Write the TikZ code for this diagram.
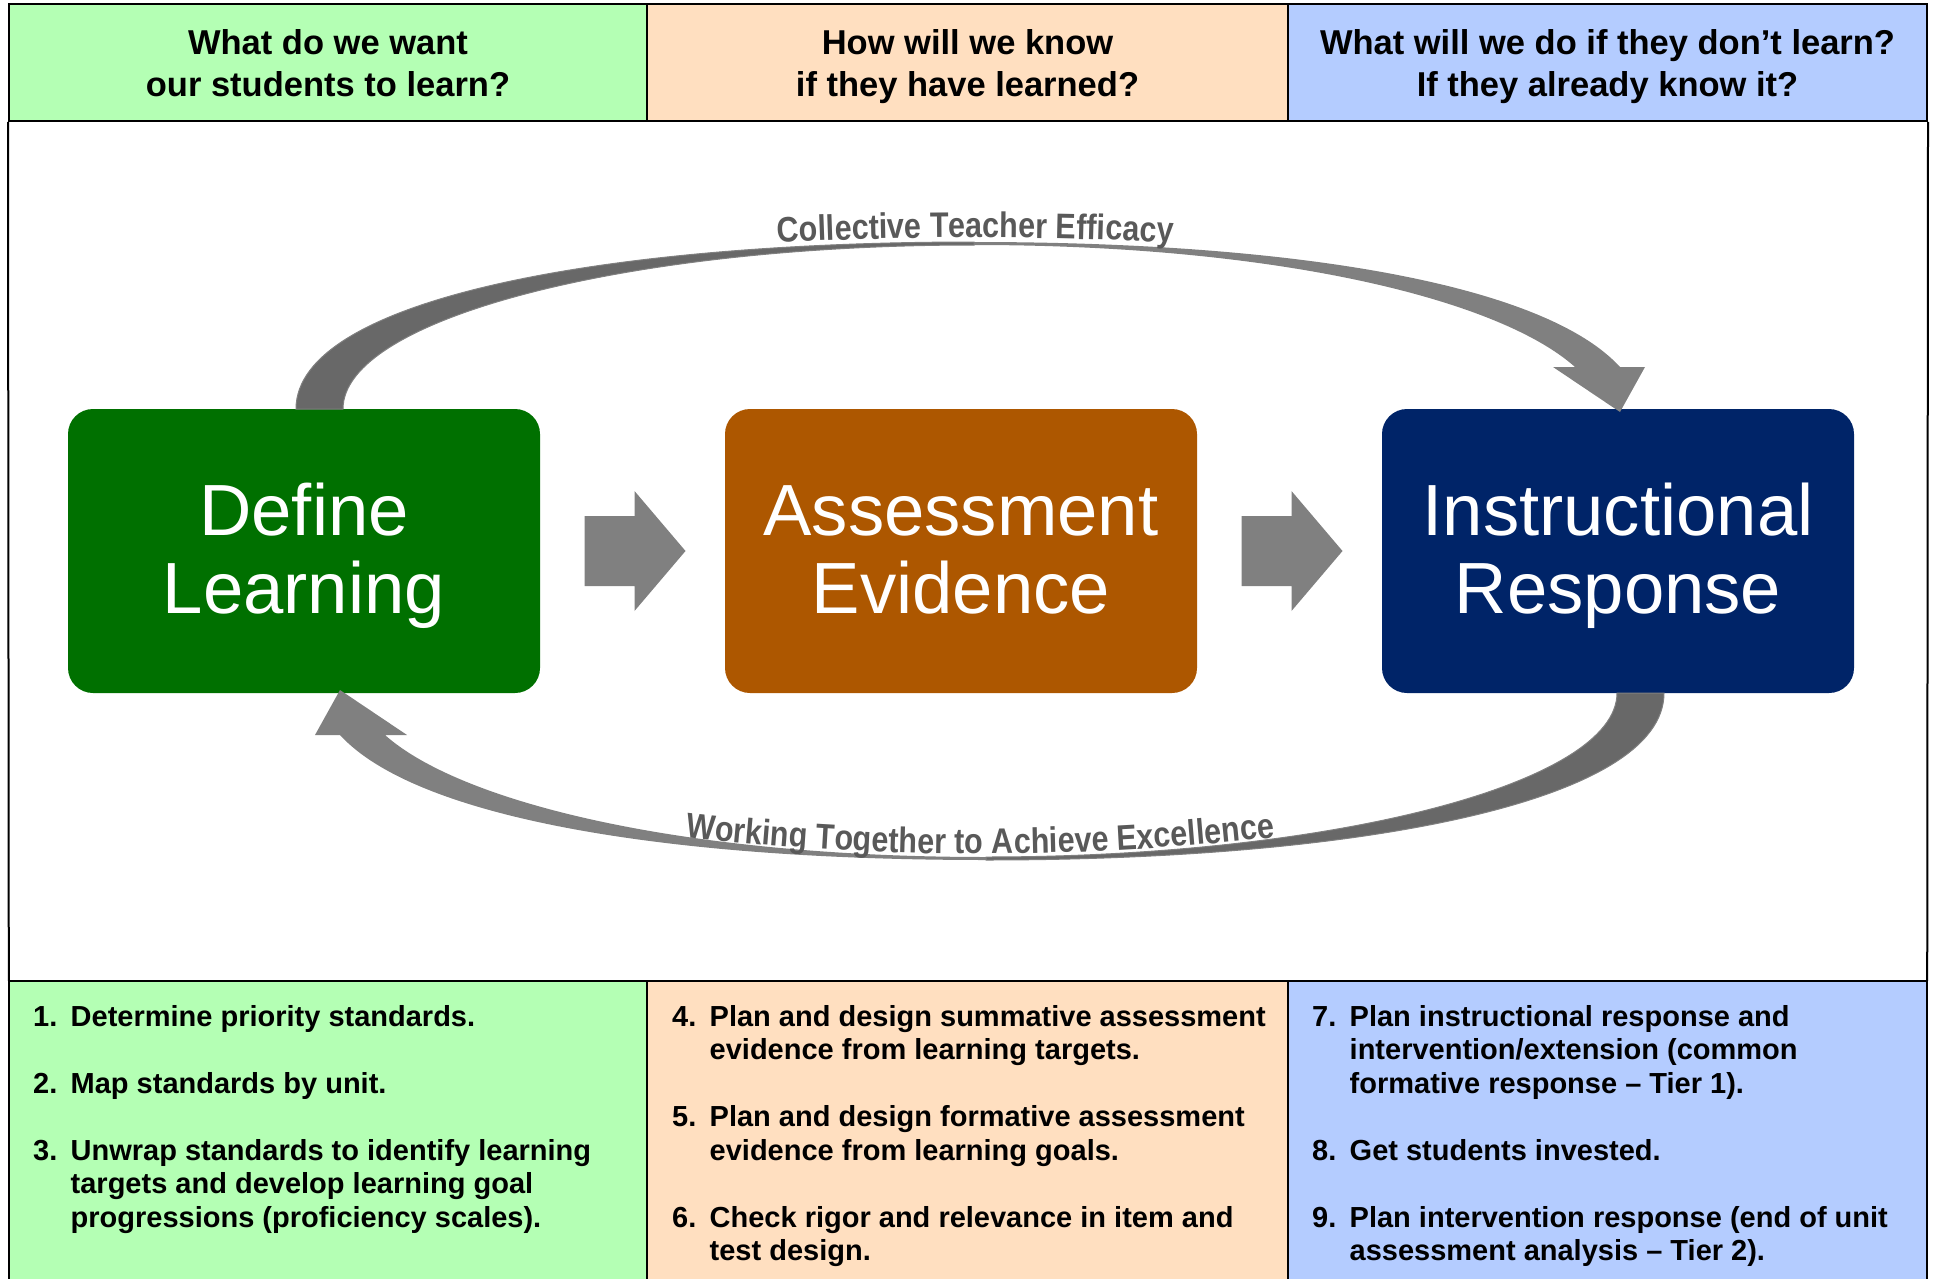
\documentclass[tikz,border=0pt]{standalone}
\usepackage{fontspec}
\setmainfont{Liberation Sans}
\newfontfamily\curvefam{Liberation Sans}[FakeStretch=0.86]
\usetikzlibrary{calc}
\usetikzlibrary{decorations.text}

\definecolor{hgreen}{RGB}{180,255,180}
\definecolor{hpeach}{RGB}{255,223,192}
\definecolor{hblue}{RGB}{180,204,255}
\definecolor{dlgreen}{RGB}{0,112,0}
\definecolor{aebrown}{RGB}{173,87,0}
\definecolor{irnavy}{RGB}{0,36,104}
\definecolor{arrlight}{RGB}{128,128,128}
\definecolor{arrdark}{RGB}{104,104,104}
\definecolor{captgray}{RGB}{89,89,89}

\newcommand{\headfont}{\bfseries\fontsize{34.5}{42}\selectfont}
\newcommand{\listfont}{\bfseries\fontsize{29}{33.5}\selectfont}
\newcommand{\stagefont}{\fontsize{72.5}{78}\selectfont}
\newcommand{\curvefont}{\curvefam\bfseries\fontsize{35.5}{40}\selectfont}
\newcommand{\stagelabel}[2]{\raisebox{0pt}[\dimexpr\height+16pt\relax][\depth]{\begin{tabular}{@{}c@{}}#1\\#2\end{tabular}}}

\begin{document}
\begin{tikzpicture}[x=1pt, y=-1pt,
    headcell/.style={draw, line width=2pt, minimum height=117pt, inner sep=0pt},
    footcell/.style={minimum height=298pt, inner sep=0pt},
    headtext/.style={anchor=base, inner sep=0pt, font=\headfont},
    listtext/.style={anchor=base west, inner sep=0pt, font=\listfont},
    stage/.style={rounded corners=25pt, minimum width=472pt, minimum height=284pt, text=white, font=\stagefont, inner sep=0pt},
    rule/.style={line width=2pt}]
        \useasboundingbox (0,0) rectangle (1933,1279);

        % header row
        \node[headcell, fill=hgreen, minimum width=638pt] (h1) at (328,62.5) {};
        \node[headcell, fill=hpeach, minimum width=641pt] (h2) at (967.5,62.5) {};
        \node[headcell, fill=hblue, minimum width=639pt] (h3) at (1607.5,62.5) {};
        \node[headtext] (t1) at (328,55) {\begin{tabular}[t]{@{}c@{}}What do we want\\our students to learn?\end{tabular}};
        \node[headtext] (t2) at (967.5,55) {\begin{tabular}[t]{@{}c@{}}How will we know\\if they have learned?\end{tabular}};
        \node[headtext] (t3) at (1607.5,55) {\begin{tabular}[t]{@{}c@{}}What will we do if they don’t learn?\\If they already know it?\end{tabular}};

        % footer row
        \node[footcell, fill=hgreen, minimum width=638pt] (f1) at (328,1130) {};
        \node[footcell, fill=hpeach, minimum width=641pt] (f2) at (967.5,1130) {};
        \node[footcell, fill=hblue, minimum width=639pt] (f3) at (1607.5,1130) {};
        \draw[rule] (f1.south west) -- (f1.north west) -- (f3.north east) -- (f3.south east);
        \draw[rule] (f1.north east) -- (f1.south east);
        \draw[rule] (f2.north east) -- (f2.south east);
        \draw[rule] (h1.south west) -- (f1.north west);
        \draw[rule] (h3.south east) -- (f3.north east);

        \node[listtext] (l1) at (33,1026) {\begin{tabular}[t]{@{}p{37.5pt}@{}l@{}}
            1. & Determine priority standards.\\ & \\
            2. & Map standards by unit.\\ & \\
            3. & Unwrap standards to identify learning\\
               & targets and develop learning goal\\
               & progressions (proficiency scales).\end{tabular}};
        \node[listtext] (l2) at (672,1026) {\begin{tabular}[t]{@{}p{37.5pt}@{}l@{}}
            4. & Plan and design summative assessment\\
               & evidence from learning targets.\\ & \\
            5. & Plan and design formative assessment\\
               & evidence from learning goals.\\ & \\
            6. & Check rigor and relevance in item and\\
               & test design.\end{tabular}};
        \node[listtext] (l3) at (1312,1026) {\begin{tabular}[t]{@{}p{37.5pt}@{}l@{}}
            7. & Plan instructional response and\\
               & intervention/extension (common\\
               & formative response – Tier 1).\\ & \\
            8. & Get students invested.\\ & \\
            9. & Plan intervention response (end of unit\\
               & assessment analysis – Tier 2).\end{tabular}};

        % stages
        \node[stage, fill=dlgreen] (define) at (304,551) {\stagelabel{Define}{Learning}};
        \node[stage, fill=aebrown] (assess) at (961,551) {\stagelabel{Assessment}{Evidence}};
        \node[stage, fill=irnavy] (respond) at (1618,551) {\stagelabel{Instructional}{Response}};

        % block arrows between the stages
        \foreach \a/\b in {define/assess, assess/respond}
            \fill[arrlight] ($(\a.east)!0.5!(\b.west)$) ++(-48,-35) -- ++(50,0) -- ++(0,-25)
                -- ++(51,60) -- ++(-51,60) -- ++(0,-25) -- ++(-50,0) -- cycle;

        % curved arrows (the lower one is the upper one turned round)
        \foreach \r in {0,180} {
            \begin{scope}[rotate around={\r:(980,551)}]
                \filldraw[fill=arrdark, draw=arrlight, line width=1pt] (296,409) .. controls (296,300) and (600,242) .. (974,242)
                    -- (974,245) .. controls (630,245) and (343,318) .. (343,409) -- cycle;
                \fill[arrlight] (974,242) .. controls (1300,242) and (1545,285) .. (1620,367) -- (1645,367) -- (1620,412)
                    -- (1553,367) -- (1575,367) .. controls (1500,300) and (1280,245) .. (974,245) -- cycle;
            \end{scope}
        }

        % texts along the arrows
        \path[decorate, decoration={text along path, text align=center, text color=captgray,
            text={|\curvefont|Collective Teacher Efficacy}}] (600,255) .. controls (850,232) and (1100,232) .. (1350,255);
        \path[decorate, decoration={text along path, text align=center, text color=captgray,
            text={|\curvefont|Working Together to Achieve Excellence}}] (600,826) .. controls (850,863) and (1110,863) .. (1360,826);
\end{tikzpicture}
\end{document}
